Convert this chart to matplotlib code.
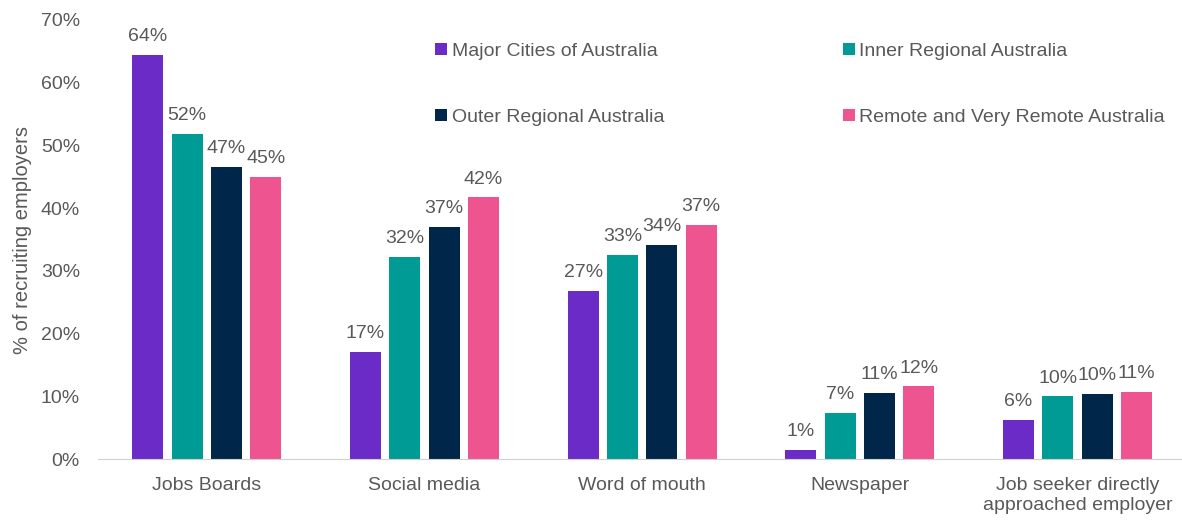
import numpy as np
import matplotlib
matplotlib.use("Agg")
import matplotlib.pyplot as plt

plt.rcParams["font.family"] = ["Liberation Sans", "DejaVu Sans"]

# recruitment methods by remoteness area (% of recruiting employers)
CATEGORIES = ["Jobs Boards", "Social media", "Word of mouth", "Newspaper",
              "Job seeker directly\napproached employer"]
SERIES = ["Major Cities of Australia", "Inner Regional Australia",
          "Outer Regional Australia", "Remote and Very Remote Australia"]
MAJOR = [64.4, 17.1, 26.8, 1.4, 6.2]
INNER = [51.9, 32.2, 32.6, 7.3, 10.0]
OUTER = [46.6, 37.0, 34.1, 10.6, 10.4]
REMOTE = [45.0, 41.7, 37.3, 11.6, 10.7]
COLORS = ["#6A2BC6", "#009B95", "#00274A", "#EE5590"]
TEXT = "#595959"

fig = plt.figure(figsize=(11.82, 5.25), dpi=100)
ax = fig.add_axes([98 / 1182, 1 - 459 / 525, 1 - 98 / 1182, 439 / 525])

x = np.arange(len(CATEGORIES))
step = 0.181
width = 0.142
handles = []
for i, (vals, name, col) in enumerate(zip([MAJOR, INNER, OUTER, REMOTE], SERIES, COLORS)):
    bars = ax.bar(x + (i - 1.5) * step, vals, width, color=col, label=name)
    ax.bar_label(bars, labels=["%.0f%%" % v for v in vals], padding=7,
                 fontsize=14, color=TEXT)
    handles.append(bars)

ax.set_xlim(-0.5, 4.48)
ax.set_ylim(0, 70)
ax.set_yticks(range(0, 71, 10))
ax.set_yticklabels(["%d%%" % v for v in range(0, 71, 10)])
ax.set_xticks(x)
ax.set_xticklabels(CATEGORIES, linespacing=1.2)
ax.tick_params(axis="both", length=0, labelsize=14, labelcolor=TEXT)
ax.tick_params(axis="y", pad=13)
ax.tick_params(axis="x", pad=13)
for s in ["top", "right", "left"]:
    ax.spines[s].set_visible(False)
ax.spines["bottom"].set_color("#D0D0D0")
ax.set_ylabel("% of recruiting employers", fontsize=14.5, color=TEXT, labelpad=6)

# legend is filled column by column, so reorder for row-wise layout
order = [0, 2, 1, 3]
ax.legend([handles[k] for k in order], [SERIES[k] for k in order],
          loc="upper left", bbox_to_anchor=(435 / 1182, 1 - 43 / 525),
          bbox_transform=fig.transFigure, ncol=2, frameon=False,
          fontsize=14, labelcolor=TEXT, handlelength=0.6, handleheight=0.6,
          handletextpad=0.25, columnspacing=9.2, labelspacing=2.5,
          borderpad=0, borderaxespad=0)

fig.savefig("out.png", dpi=100)
